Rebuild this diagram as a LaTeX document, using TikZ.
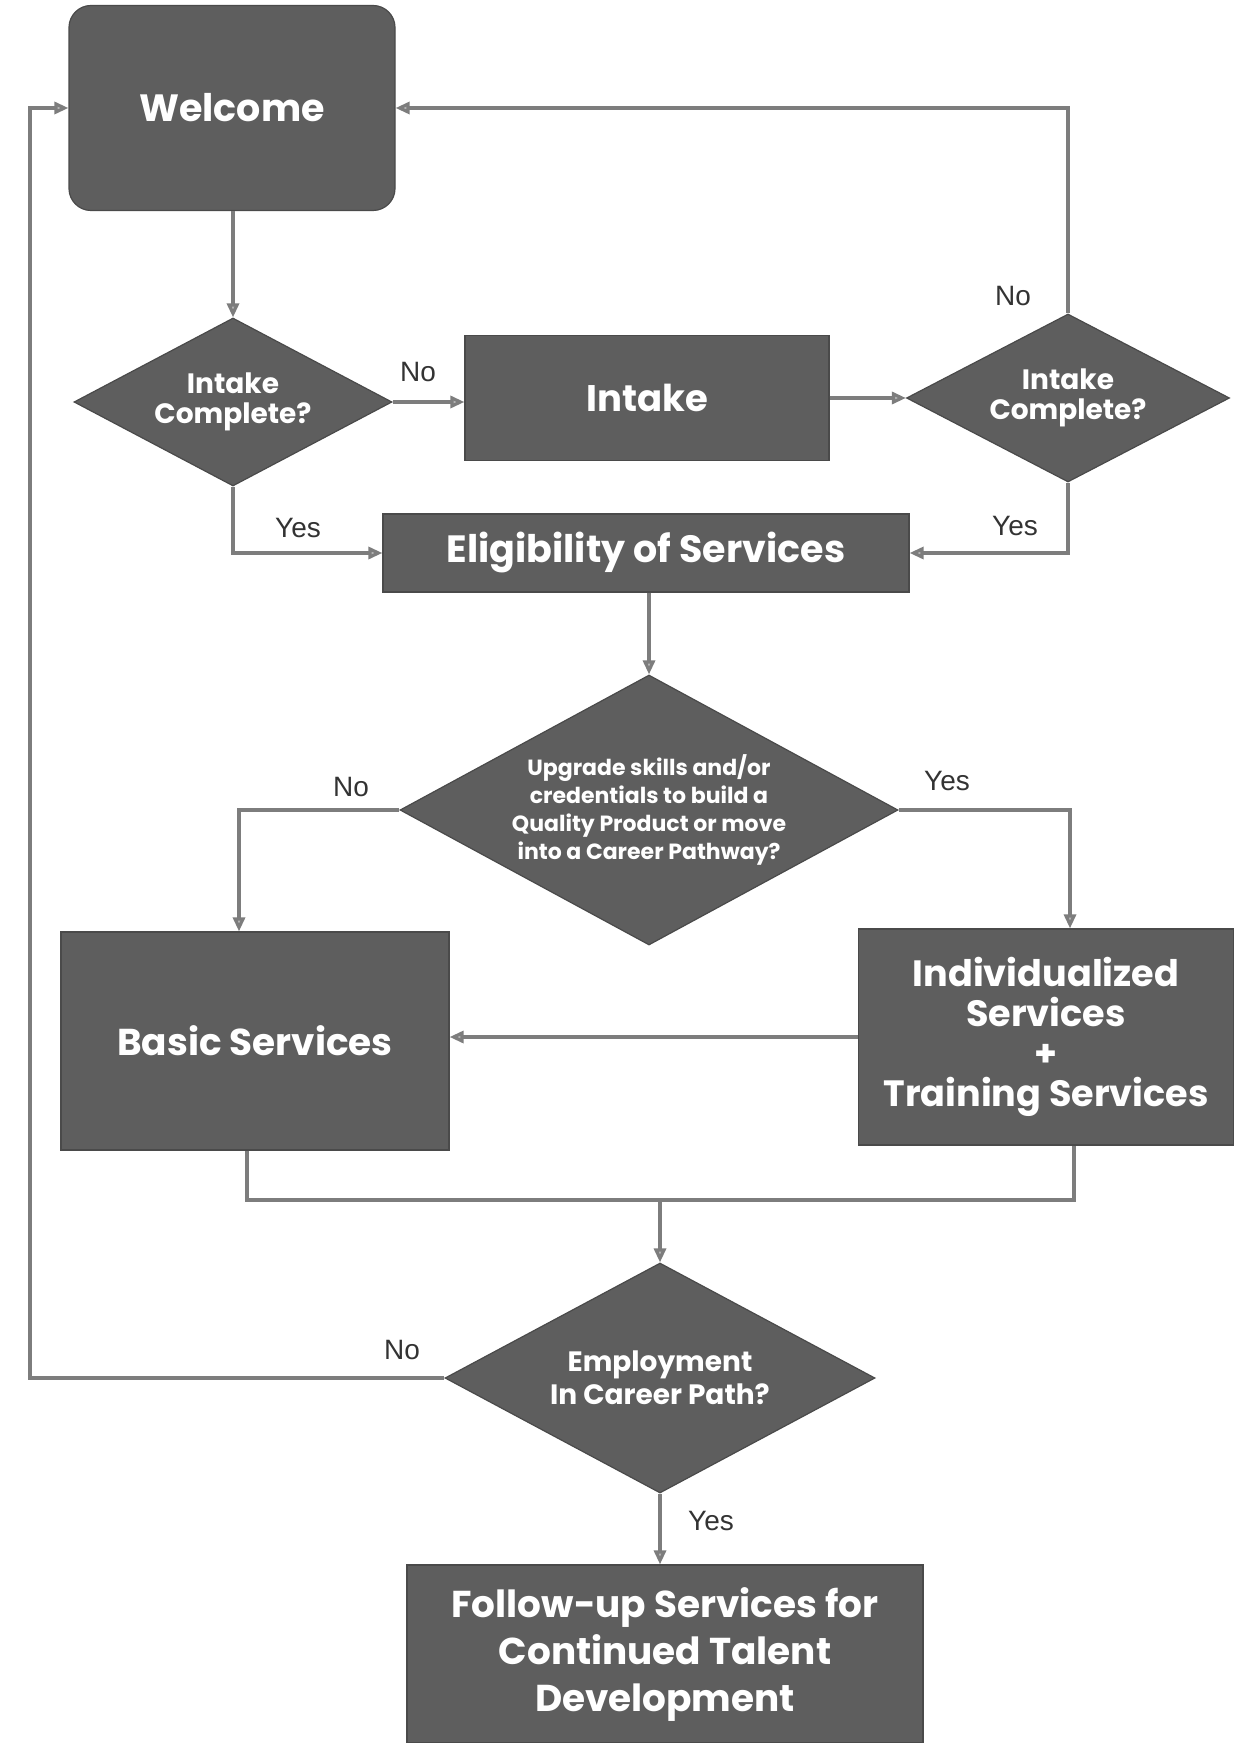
\documentclass[tikz,border=0pt]{standalone}
\usepackage{fontspec}
\setmainfont{Poppins}
\newfontfamily\lblfont{Liberation Sans}
\usetikzlibrary{shapes.geometric,arrows.meta,calc}
\definecolor{boxgray}{HTML}{5E5E5E}
\definecolor{boxedge}{HTML}{4A4A4A}
\definecolor{linegray}{HTML}{7D7D7D}
\definecolor{tipgray}{HTML}{B5B5B5}
\begin{document}
\begin{tikzpicture}[x=0.5pt,y=-0.5pt,
  box/.style={rectangle, fill=boxgray, draw=boxedge, line width=0.6pt, text=white,
    font=\bfseries\fontsize{18}{22}\selectfont, align=center, inner sep=0pt},
  dia/.style={diamond, fill=boxgray, draw=boxedge, line width=0.6pt, text=white,
    align=center, inner sep=0pt, aspect=1.9},
  conn/.style={draw=linegray, line width=1.6pt},
  arr/.style={conn, -{Triangle[length=7pt,width=6pt,fill=tipgray]}},
  lbl/.style={font=\lblfont\fontsize{14}{16}\selectfont, text=black!80, inner sep=0pt},
]
\useasboundingbox (0,0) rectangle (1235,1743);

% nodes
\node[box, rounded corners=11pt, minimum width=163pt, minimum height=102.5pt,
  font=\bfseries\fontsize{19}{22}\selectfont] (welcome) at (232,108) {Welcome};
\node[dia, minimum width=159pt, minimum height=84pt,
  font=\bfseries\fontsize{14}{15}\selectfont] (d1) at (233,402) {Intake\\Complete?};
\node[box, minimum width=182pt, minimum height=62.5pt,
  font=\bfseries\fontsize{18.5}{22}\selectfont] (intake) at (647,398) {Intake};
\node[dia, minimum width=161.5pt, minimum height=84pt,
  font=\bfseries\fontsize{14}{15}\selectfont] (d2) at (1068,398) {Intake\\Complete?};
\node[box, minimum width=263pt, minimum height=39pt,
  font=\bfseries\fontsize{19}{22}\selectfont] (elig) at (646,553) {Eligibility of Services};
\node[dia, minimum width=249pt, minimum height=135pt,
  font=\bfseries\fontsize{11}{14}\selectfont] (d3) at (649,810)
  {Upgrade skills and/or\\credentials to build a\\Quality Product or move\\into a Career Pathway?};
\node[box, minimum width=194pt, minimum height=109pt,
  font=\bfseries\fontsize{18.7}{22}\selectfont] (basic) at (255,1041) {Basic Services};
\node[box, minimum width=187.5pt, minimum height=108pt,
  font=\bfseries\fontsize{18.3}{20}\selectfont] (indiv) at (1046,1037)
  {Individualized\\Services\\+\\Training Services};
\node[dia, minimum width=215pt, minimum height=115pt,
  font=\bfseries\fontsize{14}{16.5}\selectfont] (d4) at (660,1378) {Employment\\In Career Path?};
\node[box, minimum width=258pt, minimum height=89pt,
  font=\bfseries\fontsize{18.7}{23.5}\selectfont] (follow) at (665,1654)
  {Follow-up Services for\\Continued Talent\\Development};

% helper coordinates
\coordinate (bn) at ($(basic.north)+(-16,0)$);
\coordinate (inn) at ($(indiv.north)+(24,0)$);
\coordinate (bs) at ($(basic.south)+(-8,0)$);
\coordinate (iss) at ($(indiv.south)+(28,0)$);
\coordinate (mg) at (660,1200);
\coordinate (lft) at (30,1382);

% connectors
\draw[arr] (welcome.south -| d1.north) -- (d1.north);
\draw[arr] (d1.east) -- (d1.east -| intake.west);
\draw[arr] (intake.east) -- (intake.east -| d2.west);
\draw[arr] (d2.north) |- (welcome.east);
\draw[arr] (d2.south) |- (elig.east);
\draw[arr] (d1.south) |- (elig.west);
\draw[arr] (elig.south -| d3.north) -- (d3.north);
\draw[arr] (d3.west) -| (bn);
\draw[arr] (d3.east) -| (inn);
\draw[arr] (indiv.west) -- (indiv.west -| basic.east);
\draw[conn] (bs) |- (mg) -| (iss);
\draw[arr] (mg) -- (d4.north);
\draw[arr] (d4.west) -- (d4.west -| lft) |- (welcome.west);
\draw[arr] (d4.south) -- (d4.south |- follow.north);

% labels
\node[lbl] (l1) at (418,372) {No};
\node[lbl] (l2) at (1013,296) {No};
\node[lbl] (l3) at (1015,526) {Yes};
\node[lbl] (l4) at (298,528) {Yes};
\node[lbl] (l5) at (351,787) {No};
\node[lbl] (l6) at (947,781) {Yes};
\node[lbl] (l7) at (402,1350) {No};
\node[lbl] (l8) at (711,1521) {Yes};
\end{tikzpicture}
\end{document}
